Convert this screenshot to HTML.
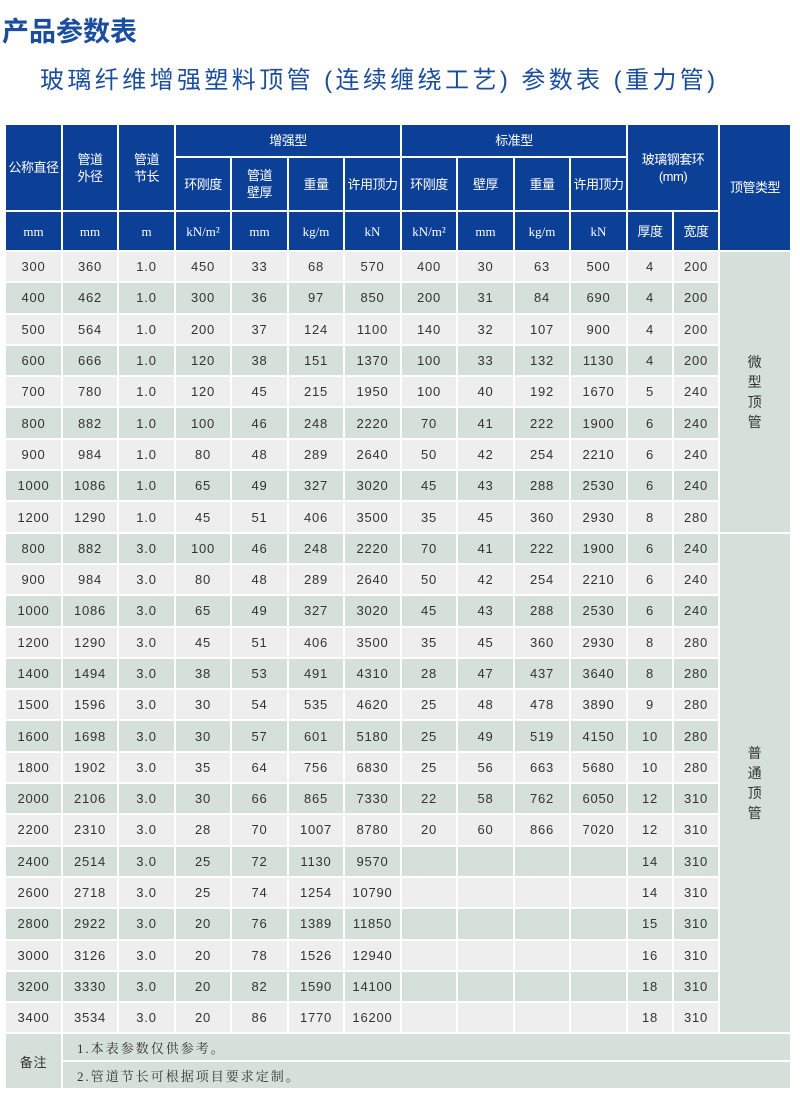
<!DOCTYPE html>
<html><head><meta charset="utf-8"><style>
body{margin:0;width:800px;height:1098px;background:#fff;position:relative;overflow:hidden;font-family:"Liberation Sans","Noto Sans CJK SC",sans-serif}
.t1{position:absolute;left:2px;top:10px;font-size:27px;font-weight:bold;color:#1a4d9e;letter-spacing:0px}
.t2{position:absolute;left:40px;top:60px;font-size:24px;color:#1a4d9e;letter-spacing:3.4px;white-space:nowrap}
table{position:absolute;left:4px;top:123px;border-collapse:separate;border-spacing:2px;table-layout:fixed}
td{padding:0;text-align:center;vertical-align:middle;font-size:13px;color:#333;overflow:hidden;letter-spacing:0.8px}
th{padding:0;background:#0c3f96;color:#fff;font-weight:normal;font-size:13px;line-height:17px;text-align:center;vertical-align:middle;white-space:nowrap;letter-spacing:-0.5px;overflow:hidden}
th.u{font-family:"Liberation Serif","Noto Serif CJK SC",serif;font-size:13px;letter-spacing:0}
tr.d td{height:29.3px}
tr.a td{background:#eeeeee}
tr.b td{background:#d5e0da}
td.ty{background:#d5e0da!important;line-height:20px;font-size:14px}
td.n{background:#d5e0da;text-align:left;padding-left:14px;font-family:"Liberation Serif","Noto Serif CJK SC",serif;letter-spacing:2px;height:26px}
</style></head><body>
<div class="t1">产品参数表</div>
<div class="t2">玻璃纤维增强塑料顶管 (连续缠绕工艺) 参数表 (重力管)</div>
<table>
<colgroup><col style="width:55px"><col style="width:54px"><col style="width:55px"><col style="width:54px"><col style="width:55px"><col style="width:54px"><col style="width:55px"><col style="width:54px"><col style="width:55px"><col style="width:54px"><col style="width:55px"><col style="width:44px"><col style="width:44px"><col style="width:70px"></colgroup>
<tr style="height:31px"><th rowspan="2">公称直径</th><th rowspan="2">管道<br>外径</th><th rowspan="2">管道<br>节长</th><th colspan="4">增强型</th><th colspan="4">标准型</th><th colspan="2" rowspan="2">玻璃钢套环<br>(mm)</th><th rowspan="3">顶管类型</th></tr>
<tr style="height:52px"><th>环刚度</th><th>管道<br>壁厚</th><th>重量</th><th>许用顶力</th><th>环刚度</th><th>壁厚</th><th>重量</th><th>许用顶力</th></tr>
<tr style="height:38px"><th class="u">mm</th><th class="u">mm</th><th class="u">m</th><th class="u">kN/m²</th><th class="u">mm</th><th class="u">kg/m</th><th class="u">kN</th><th class="u">kN/m²</th><th class="u">mm</th><th class="u">kg/m</th><th class="u">kN</th><th>厚度</th><th>宽度</th></tr>
<tr class="d a"><td>300</td><td>360</td><td>1.0</td><td>450</td><td>33</td><td>68</td><td>570</td><td>400</td><td>30</td><td>63</td><td>500</td><td>4</td><td>200</td><td class="ty" rowspan="9">微<br>型<br>顶<br>管</td></tr>
<tr class="d b"><td>400</td><td>462</td><td>1.0</td><td>300</td><td>36</td><td>97</td><td>850</td><td>200</td><td>31</td><td>84</td><td>690</td><td>4</td><td>200</td></tr>
<tr class="d a"><td>500</td><td>564</td><td>1.0</td><td>200</td><td>37</td><td>124</td><td>1100</td><td>140</td><td>32</td><td>107</td><td>900</td><td>4</td><td>200</td></tr>
<tr class="d b"><td>600</td><td>666</td><td>1.0</td><td>120</td><td>38</td><td>151</td><td>1370</td><td>100</td><td>33</td><td>132</td><td>1130</td><td>4</td><td>200</td></tr>
<tr class="d a"><td>700</td><td>780</td><td>1.0</td><td>120</td><td>45</td><td>215</td><td>1950</td><td>100</td><td>40</td><td>192</td><td>1670</td><td>5</td><td>240</td></tr>
<tr class="d b"><td>800</td><td>882</td><td>1.0</td><td>100</td><td>46</td><td>248</td><td>2220</td><td>70</td><td>41</td><td>222</td><td>1900</td><td>6</td><td>240</td></tr>
<tr class="d a"><td>900</td><td>984</td><td>1.0</td><td>80</td><td>48</td><td>289</td><td>2640</td><td>50</td><td>42</td><td>254</td><td>2210</td><td>6</td><td>240</td></tr>
<tr class="d b"><td>1000</td><td>1086</td><td>1.0</td><td>65</td><td>49</td><td>327</td><td>3020</td><td>45</td><td>43</td><td>288</td><td>2530</td><td>6</td><td>240</td></tr>
<tr class="d a"><td>1200</td><td>1290</td><td>1.0</td><td>45</td><td>51</td><td>406</td><td>3500</td><td>35</td><td>45</td><td>360</td><td>2930</td><td>8</td><td>280</td></tr>
<tr class="d b"><td>800</td><td>882</td><td>3.0</td><td>100</td><td>46</td><td>248</td><td>2220</td><td>70</td><td>41</td><td>222</td><td>1900</td><td>6</td><td>240</td><td class="ty" rowspan="16">普<br>通<br>顶<br>管</td></tr>
<tr class="d a"><td>900</td><td>984</td><td>3.0</td><td>80</td><td>48</td><td>289</td><td>2640</td><td>50</td><td>42</td><td>254</td><td>2210</td><td>6</td><td>240</td></tr>
<tr class="d b"><td>1000</td><td>1086</td><td>3.0</td><td>65</td><td>49</td><td>327</td><td>3020</td><td>45</td><td>43</td><td>288</td><td>2530</td><td>6</td><td>240</td></tr>
<tr class="d a"><td>1200</td><td>1290</td><td>3.0</td><td>45</td><td>51</td><td>406</td><td>3500</td><td>35</td><td>45</td><td>360</td><td>2930</td><td>8</td><td>280</td></tr>
<tr class="d b"><td>1400</td><td>1494</td><td>3.0</td><td>38</td><td>53</td><td>491</td><td>4310</td><td>28</td><td>47</td><td>437</td><td>3640</td><td>8</td><td>280</td></tr>
<tr class="d a"><td>1500</td><td>1596</td><td>3.0</td><td>30</td><td>54</td><td>535</td><td>4620</td><td>25</td><td>48</td><td>478</td><td>3890</td><td>9</td><td>280</td></tr>
<tr class="d b"><td>1600</td><td>1698</td><td>3.0</td><td>30</td><td>57</td><td>601</td><td>5180</td><td>25</td><td>49</td><td>519</td><td>4150</td><td>10</td><td>280</td></tr>
<tr class="d a"><td>1800</td><td>1902</td><td>3.0</td><td>35</td><td>64</td><td>756</td><td>6830</td><td>25</td><td>56</td><td>663</td><td>5680</td><td>10</td><td>280</td></tr>
<tr class="d b"><td>2000</td><td>2106</td><td>3.0</td><td>30</td><td>66</td><td>865</td><td>7330</td><td>22</td><td>58</td><td>762</td><td>6050</td><td>12</td><td>310</td></tr>
<tr class="d a"><td>2200</td><td>2310</td><td>3.0</td><td>28</td><td>70</td><td>1007</td><td>8780</td><td>20</td><td>60</td><td>866</td><td>7020</td><td>12</td><td>310</td></tr>
<tr class="d b"><td>2400</td><td>2514</td><td>3.0</td><td>25</td><td>72</td><td>1130</td><td>9570</td><td></td><td></td><td></td><td></td><td>14</td><td>310</td></tr>
<tr class="d a"><td>2600</td><td>2718</td><td>3.0</td><td>25</td><td>74</td><td>1254</td><td>10790</td><td></td><td></td><td></td><td></td><td>14</td><td>310</td></tr>
<tr class="d b"><td>2800</td><td>2922</td><td>3.0</td><td>20</td><td>76</td><td>1389</td><td>11850</td><td></td><td></td><td></td><td></td><td>15</td><td>310</td></tr>
<tr class="d a"><td>3000</td><td>3126</td><td>3.0</td><td>20</td><td>78</td><td>1526</td><td>12940</td><td></td><td></td><td></td><td></td><td>16</td><td>310</td></tr>
<tr class="d b"><td>3200</td><td>3330</td><td>3.0</td><td>20</td><td>82</td><td>1590</td><td>14100</td><td></td><td></td><td></td><td></td><td>18</td><td>310</td></tr>
<tr class="d a"><td>3400</td><td>3534</td><td>3.0</td><td>20</td><td>86</td><td>1770</td><td>16200</td><td></td><td></td><td></td><td></td><td>18</td><td>310</td></tr>
<tr><td rowspan="2" style="background:#d5e0da">备注</td><td colspan="13" class="n">1.本表参数仅供参考。</td></tr>
<tr><td colspan="13" class="n">2.管道节长可根据项目要求定制。</td></tr>
</table>
</body></html>
